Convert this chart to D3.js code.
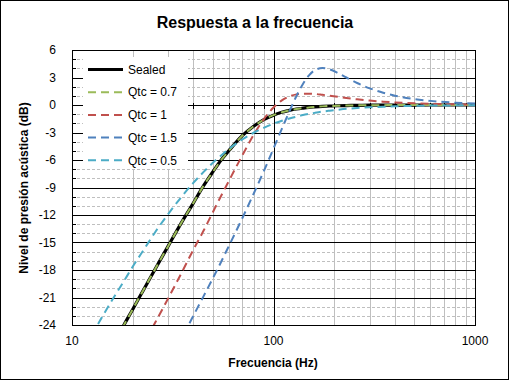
<!DOCTYPE html>
<html>
<head>
<meta charset="utf-8">
<script src="https://cdn.jsdelivr.net/npm/d3@7"></script>
<style>
  body { margin: 0; background: #fff; }
  svg { display: block; font-family: "Liberation Sans", Arial, sans-serif; }
</style>
</head>
<body>
<svg id="chart" width="509" height="380"></svg>
<script>
// frequencies (Hz) and responses (dB)
const freqs = [10, 12, 14, 16, 18, 20, 23, 26, 30, 35, 40, 45, 50, 55, 60, 70, 80, 90, 100, 110, 120, 130, 140, 150, 160, 175, 190, 210, 230, 260, 300, 350, 400, 500, 600, 800, 1000];

const sealed = [-34.3, -31.1, -28.5, -26.2, -24.1, -22.3, -19.9, -17.8, -15.4, -12.8, -10.7, -8.8, -7.3, -6.0, -5.0, -3.35, -2.3, -1.57, -1.11, -0.8, -0.59, -0.44, -0.34, -0.26, -0.21, -0.15, -0.11, -0.08, -0.06, -0.04, -0.02, -0.015, -0.01, -0.01, 0, 0, 0];
const qtc07 = [-34.3, -31.1, -28.5, -26.2, -24.1, -22.3, -19.9, -17.8, -15.4, -12.8, -10.7, -8.8, -7.3, -6.0, -5.0, -3.35, -2.3, -1.57, -1.11, -0.8, -0.59, -0.44, -0.34, -0.26, -0.21, -0.15, -0.11, -0.08, -0.06, -0.04, -0.02, -0.015, -0.01, -0.01, 0, 0, 0];
const qtc1 = [-40.5, -37.3, -34.6, -32.3, -30.2, -28.3, -25.8, -23.65, -21.1, -18.3, -15.8, -13.7, -11.7, -9.9, -8.3, -5.5, -3.2, -1.48, -0.27, 0.5, 0.94, 1.16, 1.24, 1.24, 1.21, 1.11, 1.01, 0.88, 0.76, 0.62, 0.48, 0.36, 0.28, 0.18, 0.13, 0.07, 0.05];
const qtc15 = [-47.5, -44.4, -41.7, -39.3, -37.3, -35.4, -32.9, -30.8, -28.2, -25.45, -23.0, -20.85, -18.9, -17.1, -15.4, -12.35, -9.6, -7.1, -4.75, -2.6, -0.68, 0.98, 2.3, 3.23, 3.78, 4.03, 3.89, 3.46, 3.0, 2.4, 1.82, 1.34, 1.02, 0.65, 0.45, 0.25, 0.16];
const qtc05 = [-28.8, -25.8, -23.25, -21.1, -19.3, -17.65, -15.6, -13.8, -11.9, -10.0, -8.5, -7.3, -6.3, -5.5, -4.8, -3.76, -3.0, -2.46, -2.04, -1.72, -1.47, -1.27, -1.1, -0.97, -0.86, -0.72, -0.62, -0.51, -0.42, -0.33, -0.25, -0.19, -0.14, -0.09, -0.06, -0.04, -0.02];

const seriesNames = ["Sealed", "Qtc = 0.7", "Qtc = 1", "Qtc = 1.5", "Qtc = 0.5"];
const yTicks = [-24, -21, -18, -15, -12, -9, -6, -3, 0, 3, 6];
const xTicks = [10, 100, 1000];

const series = [
    { name: seriesNames[0], values: sealed, color: "#000000", width: 3.2, dash: null },
    { name: seriesNames[1], values: qtc07, color: "#9BBB59", width: 2, dash: "8,5" },
    { name: seriesNames[2], values: qtc1, color: "#C0504D", width: 2, dash: "8,5" },
    { name: seriesNames[3], values: qtc15, color: "#4F81BD", width: 2, dash: "8,5" },
    { name: seriesNames[4], values: qtc05, color: "#4BACC6", width: 2, dash: "8,5" }
];

const width = 509, height = 380;
const margin = { top: 50, right: 34, bottom: 55, left: 72 };

const svg = d3.select("#chart");

// outer frame
svg.append("rect")
    .attr("x", 0.5).attr("y", 0.5)
    .attr("width", width - 1).attr("height", height - 1)
    .attr("fill", "#fff").attr("stroke", "#000");

const x = d3.scaleLog()
    .domain([10, 1000])
    .range([margin.left, width - margin.right]);

const y = d3.scaleLinear()
    .domain([-24, 6])
    .range([height - margin.bottom, margin.top]);

const x0 = x.range()[0], x1 = x.range()[1];
const y0 = y.range()[0], y1 = y.range()[1];

// minor horizontal gridlines every 1 dB
const minorY = d3.range(-23, 6, 1).filter(d => d % 3 !== 0);
svg.append("g")
    .selectAll("line")
    .data(minorY)
    .join("line")
    .attr("x1", x0).attr("x2", x1)
    .attr("y1", d => Math.round(y(d)) + 0.5).attr("y2", d => Math.round(y(d)) + 0.5)
    .attr("stroke", "#bfbfbf")
    .attr("stroke-dasharray", "3,2");

// minor vertical gridlines
const minorX = [20, 30, 40, 50, 60, 70, 80, 90, 200, 300, 400, 500, 600, 700, 800, 900];
svg.append("g")
    .selectAll("line")
    .data(minorX)
    .join("line")
    .attr("x1", d => Math.round(x(d)) + 0.5).attr("x2", d => Math.round(x(d)) + 0.5)
    .attr("y1", y1).attr("y2", y0)
    .attr("stroke", "#bfbfbf");

// major horizontal gridlines
svg.append("g")
    .selectAll("line")
    .data(yTicks)
    .join("line")
    .attr("x1", x0).attr("x2", x1)
    .attr("y1", d => Math.round(y(d)) + 0.5).attr("y2", d => Math.round(y(d)) + 0.5)
    .attr("stroke", "#000");

// major vertical gridline at 100
svg.append("line")
    .attr("x1", Math.round(x(100)) + 0.5).attr("x2", Math.round(x(100)) + 0.5)
    .attr("y1", y1).attr("y2", y0)
    .attr("stroke", "#000");

// small ticks: left border at each dB, 0 dB line at minor freqs
svg.append("g")
    .selectAll("line")
    .data(minorY)
    .join("line")
    .attr("x1", x0).attr("x2", x0 + 4)
    .attr("y1", d => Math.round(y(d)) + 0.5).attr("y2", d => Math.round(y(d)) + 0.5)
    .attr("stroke", "#000");

svg.append("g")
    .selectAll("line")
    .data(minorX)
    .join("line")
    .attr("x1", d => Math.round(x(d)) + 0.5).attr("x2", d => Math.round(x(d)) + 0.5)
    .attr("y1", Math.round(y(0)) - 2).attr("y2", Math.round(y(0)) + 4)
    .attr("stroke", "#000");

// plot border
svg.append("rect")
    .attr("x", x0 + 0.5).attr("y", y1 + 0.5)
    .attr("width", x1 - x0).attr("height", y0 - y1)
    .attr("fill", "none").attr("stroke", "#000");

// tick labels
svg.append("g")
    .selectAll("text")
    .data(yTicks)
    .join("text")
    .attr("x", 56)
    .attr("y", d => y(d))
    .attr("dy", "0.35em")
    .attr("text-anchor", "end")
    .attr("font-size", 12)
    .text(d => d);

svg.append("g")
    .selectAll("text")
    .data(xTicks)
    .join("text")
    .attr("x", d => x(d))
    .attr("y", 345)
    .attr("text-anchor", "middle")
    .attr("font-size", 12)
    .text(d => d);

// titles
svg.append("text")
    .attr("x", 255).attr("y", 28)
    .attr("text-anchor", "middle")
    .attr("font-size", 16).attr("font-weight", "bold")
    .text("Respuesta a la frecuencia");

svg.append("text")
    .attr("x", 273).attr("y", 367)
    .attr("text-anchor", "middle")
    .attr("font-size", 12).attr("font-weight", "bold")
    .text("Frecuencia (Hz)");

svg.append("text")
    .attr("transform", "translate(28,188) rotate(-90)")
    .attr("text-anchor", "middle")
    .attr("font-size", 12).attr("font-weight", "bold")
    .text("Nivel de presión acústica (dB)");

// clip for curves
svg.append("clipPath").attr("id", "plot-clip")
    .append("rect")
    .attr("x", x0).attr("y", y1)
    .attr("width", x1 - x0).attr("height", y0 - y1);

const line = d3.line()
    .x((d, i) => x(freqs[i]))
    .y(d => y(d))
    .curve(d3.curveMonotoneX);

// legend background sits over the grid but under the curves
svg.append("rect")
    .attr("x", 83).attr("y", 57)
    .attr("width", 105).attr("height", 112)
    .attr("fill", "#fff");

const curves = svg.append("g").attr("clip-path", "url(#plot-clip)");

series.forEach(s => {
    curves.append("path")
        .datum(s.values)
        .attr("fill", "none")
        .attr("stroke", s.color)
        .attr("stroke-width", s.width)
        .attr("stroke-dasharray", s.dash)
        .attr("d", line);
});

// legend
const legend = svg.append("g")
    .selectAll("g")
    .data(series)
    .join("g")
    .attr("transform", (d, i) => `translate(88,${69.5 + i * 22.7})`);

legend.append("line")
    .attr("x1", 0).attr("x2", 35)
    .attr("stroke", d => d.color)
    .attr("stroke-width", d => d.width)
    .attr("stroke-dasharray", d => d.dash);

legend.append("text")
    .attr("x", 40)
    .attr("dy", "0.35em")
    .attr("font-size", 12)
    .text(d => d.name);
</script>
</body>
</html>
